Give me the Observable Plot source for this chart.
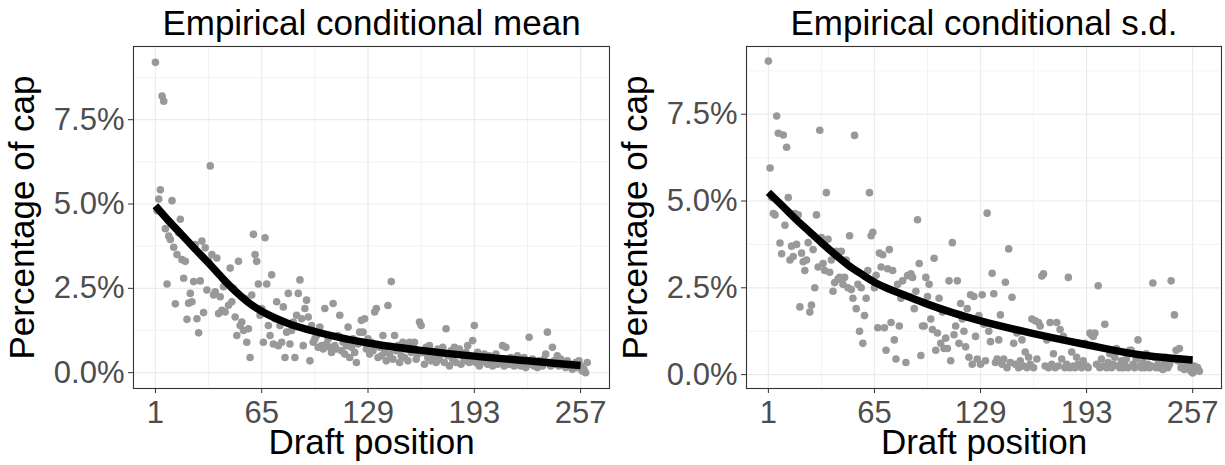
<!DOCTYPE html>
<html><head><meta charset="utf-8">
<script src="https://cdn.jsdelivr.net/npm/d3@7"></script>
<script src="https://cdn.jsdelivr.net/npm/@observablehq/plot@0.6"></script>
<style>
body{margin:0;background:#fff;}
#wrap{display:flex;width:1225px;height:465px;}
#wrap svg{display:block;}
</style></head><body><div id="wrap"></div>
<script>
const draftPositions = d3.range(1, 262);
const meanPct = [
9.2,4.8,5.15,5.42,8.2,8.05,4.27,2.63,4.05,3.95,
5.1,3.72,2.04,3.5,4.15,4.55,3.35,2.8,3.3,1.58,
2.06,2.35,2.1,2.7,3.8,1.6,1.18,2.72,3.9,1.78,
3.7,2.45,3.3,6.13,3.5,2.3,2.4,3.4,1.75,2.25,
1.85,2.55,1.8,2.62,2.0,3.1,2.1,2.5,1.65,1.1,
3.3,1.4,1.5,1.25,2.2,0.9,1.3,0.45,2.3,4.1,
3.5,3.3,2.63,1.7,1.9,0.9,4.0,2.63,1.4,1.1,
2.9,0.85,1.6,2.1,0.8,1.4,0.9,1.95,0.45,1.2,
2.35,0.85,1.25,1.5,0.45,1.7,2.35,2.75,1.6,0.8,
1.9,2.15,1.65,0.35,1.4,0.9,1.0,1.1,0.75,1.35,
0.8,0.7,1.9,0.85,1.0,0.75,0.6,2.05,0.8,0.7,
1.1,1.7,0.65,0.9,0.55,0.8,1.35,0.45,0.75,1.0,
0.6,0.3,0.85,1.2,1.55,1.2,1.6,0.7,1.0,0.55,
0.9,0.65,1.8,1.9,0.45,0.75,0.5,1.1,0.6,0.35,
1.99,0.55,2.7,0.4,1.1,0.65,0.8,0.3,0.5,0.9,
0.45,0.7,0.35,0.9,0.6,0.85,0.9,0.4,0.55,1.5,
1.4,0.6,0.25,0.75,0.45,0.8,0.35,0.6,0.5,0.3,
0.7,0.4,0.55,0.75,0.3,1.3,0.5,0.2,0.65,0.4,
0.75,0.3,0.55,0.7,0.25,0.5,0.35,0.6,0.8,0.3,
0.45,0.95,1.4,0.3,0.6,0.2,0.45,0.35,0.55,0.3,
0.25,0.5,0.4,0.2,0.3,0.55,0.25,0.4,0.3,0.8,
0.2,0.75,0.35,0.25,0.45,0.3,0.2,0.35,0.5,0.25,
0.2,0.3,0.45,0.15,0.3,1.05,0.25,0.4,0.2,0.3,
0.15,0.35,0.25,0.2,0.4,0.55,1.2,0.3,0.2,0.75,
0.35,0.25,0.5,0.2,0.4,0.25,0.3,0.15,0.35,0.2,
0.25,0.1,0.2,0.3,0.15,0.35,0.2,0.05,0.1,0.0,
0.3];
const sdPct = [
9.03,5.95,5.1,4.64,4.6,7.45,6.95,3.79,3.48,6.9,
4.3,6.55,5.1,3.3,3.7,3.4,4.64,3.75,4.6,1.95,
3.5,3.25,3.0,3.3,3.8,1.8,2.0,3.6,2.5,4.6,
3.1,7.04,3.95,3.2,3.0,5.24,3.9,2.95,3.3,2.4,
2.65,3.55,2.75,2.8,3.55,2.6,2.8,3.3,2.5,4.0,
2.45,2.2,6.89,1.9,2.6,1.25,2.5,0.9,1.7,2.2,
3.0,5.24,4.0,4.1,2.5,2.86,1.35,3.5,3.1,3.45,
1.35,0.7,3.05,3.6,1.5,3.0,1.0,0.45,2.6,1.4,
2.2,2.7,2.3,0.35,2.85,2.25,2.9,2.8,1.9,2.4,
4.46,3.2,0.55,1.4,1.4,2.8,2.25,2.6,1.6,1.3,
3.35,0.7,1.2,2.2,0.9,1.8,0.75,1.05,0.75,2.7,
0.4,3.8,1.15,1.4,2.7,0.9,2.05,1.6,1.25,0.8,
1.9,0.5,2.3,0.3,2.25,1.1,0.45,1.7,0.3,2.3,
1.45,0.4,4.65,1.25,0.95,2.92,2.33,0.35,0.45,1.0,
1.72,0.3,0.45,2.66,0.2,3.62,0.35,2.23,0.9,0.3,
1.2,0.2,0.4,1.0,0.25,0.65,0.2,0.5,0.3,1.6,
0.2,1.55,0.45,1.5,1.4,2.84,2.9,0.25,1.0,0.2,
1.5,0.3,0.6,0.2,1.5,0.25,1.3,0.45,1.1,0.2,
0.3,2.8,0.2,0.65,0.25,0.2,0.5,0.3,0.9,0.2,
0.4,0.9,0.25,0.2,1.2,1.15,1.1,1.2,0.3,2.56,
0.2,0.45,0.25,1.45,0.2,0.35,0.6,0.2,0.3,0.5,
0.75,0.25,0.2,0.4,0.2,0.3,0.45,0.2,0.7,0.7,
0.3,0.2,0.45,1.0,0.25,0.2,0.35,0.2,0.6,0.3,
0.2,0.25,2.64,0.5,0.2,0.3,0.2,0.25,0.15,0.35,
0.5,0.2,0.3,2.7,0.45,1.72,0.7,0.4,0.75,0.2,
0.3,0.15,0.25,0.2,0.35,0.1,0.05,0.25,0.15,0.2,
0.1];
const fitX    = [1,9,17,25,33,41,49,57,65,73,81,97,113,129,161,193,225,257];
const fitMean = [4.95,4.5,4.08,3.66,3.25,2.82,2.42,2.08,1.82,1.62,1.46,1.22,1.03,0.88,0.66,0.49,0.35,0.21];
const fitSd   = [5.25,4.88,4.5,4.15,3.8,3.47,3.16,2.9,2.66,2.48,2.33,2.03,1.77,1.55,1.18,0.86,0.57,0.42];
const xTicks = [1,65,129,193,257];
const xMinor = [33,97,161,225];
const yTicks = [0,2.5,5,7.5];
const yMinor = [1.25,3.75,6.25,8.75];
const titles = ["Empirical conditional mean","Empirical conditional s.d."];

const FONT = "'Liberation Sans', Arial, Helvetica, sans-serif";

function panel({title, values, fit, yDomain, width, marginLeft, marginRight}) {
  const pts = draftPositions.map((x, i) => ({x, y: values[i]}));
  const fitted = fitX.map((x, i) => ({x, y: fit[i]}));
  return Plot.plot({
    width, height: 465,
    marginLeft, marginRight, marginTop: 46, marginBottom: 77,
    style: {fontFamily: FONT, fontSize: "31px", background: "white", color: "black"},
    x: {domain: [-12.2, 274.4]},
    y: {domain: yDomain},
    marks: [
      Plot.ruleX(xMinor, {stroke: "#EBEBEB", strokeWidth: 0.6}),
      Plot.ruleY(yMinor, {stroke: "#EBEBEB", strokeWidth: 0.6}),
      Plot.ruleX(xTicks, {stroke: "#EBEBEB", strokeWidth: 1.2}),
      Plot.ruleY(yTicks, {stroke: "#EBEBEB", strokeWidth: 1.2}),
      Plot.dot(pts, {x: "x", y: "y", r: 3.8, fill: "#999999"}),
      Plot.line(fitted, {x: "x", y: "y", stroke: "black", strokeWidth: 7.5, curve: "monotone-x", strokeLinecap: "butt", strokeLinejoin: "round"}),
      Plot.frame({stroke: "#333333", strokeWidth: 1.1}),
      Plot.axisX({ticks: xTicks, tickSize: 5, tickPadding: 7, fontSize: 31, stroke: "#333333", fill: "#4D4D4D", label: null}),
      Plot.axisY({ticks: yTicks, tickSize: 5, tickPadding: 4, fontSize: 31, stroke: "#333333", fill: "#4D4D4D", label: null, tickFormat: d => d.toFixed(1) + "%"}),
      Plot.text([title], {text: d => d, frameAnchor: "top", textAnchor: "middle", lineAnchor: "bottom", dy: -12, fontSize: 35, fill: "black"}),
      Plot.text(["Draft position"], {text: d => d, frameAnchor: "bottom", textAnchor: "middle", lineAnchor: "bottom", dy: 65, fontSize: 35, fill: "black"}),
      Plot.text(["Percentage of cap"], {text: d => d, frameAnchor: "left", textAnchor: "middle", lineAnchor: "bottom", rotate: -90, dx: -100, fontSize: 35, fill: "black"})
    ]
  });
}

const wrap = document.getElementById("wrap");
wrap.appendChild(panel({title: titles[0], values: meanPct, fit: fitMean, yDomain: [-0.47, 9.67], width: 612, marginLeft: 133, marginRight: 3}));
wrap.appendChild(panel({title: titles[1], values: sdPct, fit: fitSd, yDomain: [-0.4, 9.45], width: 613, marginLeft: 134, marginRight: 4}));
</script></body></html>
